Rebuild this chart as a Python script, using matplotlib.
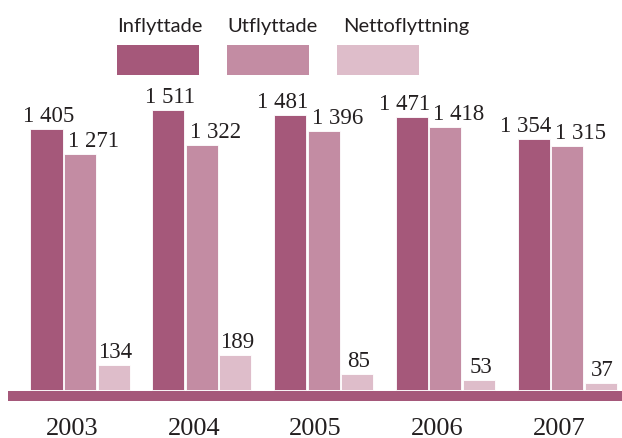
import numpy as np
import matplotlib.pyplot as plt
from matplotlib.patches import Rectangle

years = ["2003", "2004", "2005", "2006", "2007"]
inflyttade = [1405, 1511, 1481, 1471, 1354]
utflyttade = [1271, 1322, 1396, 1418, 1315]
netto = [134, 189, 85, 53, 37]
series_names = ["Inflyttade", "Utflyttade", "Nettoflyttning"]

colors = ["#A5587A", "#C38CA3", "#DEBDCA"]
TEXT = "#231F20"

W, H = 622, 439
K = 0.1855        # pixels per person
PX = 121.75       # pixels per group
ZERO_Y = 391      # baseline pixel row (from top)
FIRST_X = 80      # first group centre pixel

fig = plt.figure(figsize=(W / 100, H / 100), dpi=100)
ax = fig.add_axes([0, 0, 1, 1])
ax.set_xlim(-FIRST_X / PX, (W - FIRST_X) / PX)
ax.set_ylim(-(H - ZERO_Y) / K, ZERO_Y / K)
ax.axis("off")

x = np.arange(len(years))
step = 33.5 / PX
width = 32 / PX
pad = 8 / K


def fmt(v):
    return f"{v:,}".replace(",", " ")


# baseline band
ax.axhspan(-11 / K, -1 / K, xmin=8 / W, xmax=1, color=colors[0], lw=0)

for i, (vals, c) in enumerate(zip([inflyttade, utflyttade, netto], colors)):
    xs = x + (i - 1) * step
    ax.bar(xs, vals, width=width, color=c, edgecolor="white", linewidth=0.6, zorder=2)

lab = dict(va="baseline", fontsize=16.5, family="Liberation Serif", color=TEXT)
for j in range(len(years)):
    d, u, n = inflyttade[j], utflyttade[j], netto[j]
    xd, xu, xn = x[j] - step, x[j], x[j] + step
    # dark label: centred, pushed left if it would run into the mid label
    if d - u < 100:
        ax.text(xd + width / 2 + 2 / PX, d + pad, fmt(d), ha="right", **lab)
    else:
        ax.text(xd + 2 / PX, d + pad, fmt(d), ha="center", **lab)
    ax.text(xu - width / 2 + 4 / PX, u + pad, fmt(u), ha="left", **lab)
    ax.text(xn + 2 / PX, n + pad, str(n), ha="center", **lab)
    ax.text(x[j] - 8 / PX, -(435 - ZERO_Y) / K, years[j], ha="center", va="baseline",
            fontsize=19, family="Liberation Serif", color=TEXT)

# legend at the top
leg_x = [117, 227, 337]
txt_x = [117, 227, 343]
for name, c, lx, tx in zip(series_names, colors, leg_x, txt_x):
    fig.text(tx / W, 1 - 32 / H, name, ha="left", va="baseline",
             fontsize=14.5, family="Lato", color=TEXT)
    fig.patches.append(Rectangle((lx / W, 1 - 76 / H), 82 / W, 30 / H,
                                 transform=fig.transFigure, color=c, lw=0))

fig.savefig("out.png", dpi=100)
